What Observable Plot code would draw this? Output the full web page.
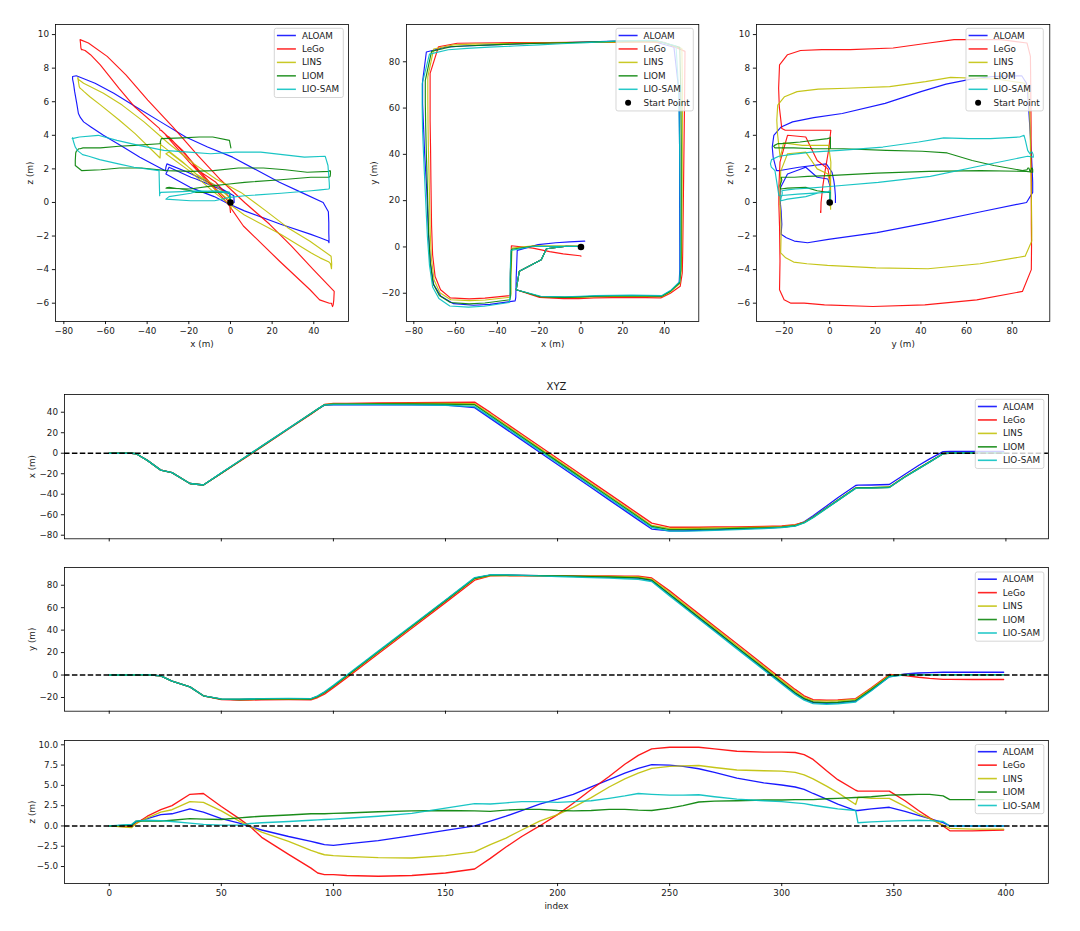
<!DOCTYPE html>
<html><head><meta charset="utf-8">
<script src="https://cdn.jsdelivr.net/npm/d3@7"></script>
<script src="https://cdn.jsdelivr.net/npm/@observablehq/plot@0.6"></script>
<style>
body{margin:0;background:#fff;}
#wrap{position:relative;width:1080px;height:931px;font-family:"DejaVu Sans";overflow:hidden;}
#wrap svg{position:absolute;overflow:visible;}
</style></head><body><div id="wrap"></div>
<script>
const methods = ["ALOAM","LeGo","LINS","LIOM","LIO-SAM"];
const colors = ["#0000ff","#ff0000","#bfbf00","#008000","#00bfbf"];
const startPoint = {x: 0, y: 0, z: 0};
const startLabel = "Start Point";

const idx = [0,10,12,17,23,28,36, 42,50,58,63,68,80,90, 93,96,100,106,120,135,150, 163,170,177,184,192,200,207,
  215,223,230,236,242,250,256, 263,270,280,292,300,306,310, 314,320,325,333,334,340,348, 355,361,366,372,375,385,399];

const xALOAM = [0,0,-0.5,-7,-16.5,-19,-29.5, -31,-19.4,-7.8,-0.6,6.7,24.1,38.6, 43,47,47.3,47.3,47.2,47.2,47, 44.5,34,23.5,13,1,-11,-21.5,
  -33.5,-45.5,-56,-65,-74,-75.8,-75.8, -75.3,-74.8,-73.8,-73,-72,-70.5,-67, -61,-51.5,-43.5,-31.5,-31.2,-31,-30.5, -20.5,-12,-5.5,1.6,1.8,1.8,1.8];
const xLeGo = [0,0,-0.5,-7,-16.5,-19,-29.5, -31,-19.8,-8.3,-1.1,6.2,23.6,38.2, 42.8,47.5,48.5,48.7,49,49.3,49.6, 49.8,39.8,29.3,18.8,6.8,-5.2,-15.7,
  -27.7,-39.7,-50.2,-59.2,-68.2,-72.2,-72.2, -72.2,-72,-71.8,-71.5,-71,-69.8,-67.2, -62.5,-53.5,-46,-34,-33.8,-33.8,-33.3, -23,-15,-8.5,-0.5,0,0,0];
const xLINS = [0,0,-0.5,-7,-16.5,-19,-29.5, -31,-19.4,-7.8,-0.6,6.7,24.1,38.6, 43,47.3,48,48.2,48.4,48.5,48.6, 48.3,38,27.5,17,5,-7,-17.5,
  -29.5,-41.5,-52,-61,-70.5,-73.3,-73.3, -73.2,-73,-72.6,-72.2,-71.6,-70.3,-67.5, -62.3,-53.3,-45.8,-33.8,-33.5,-33.5,-33, -22.8,-14.8,-8.3,-0.3,0.3,0.3,0.3];
const xLIOM = [0,0,-0.5,-7,-16.5,-19,-29.5, -31,-19.4,-7.8,-0.6,6.7,24.1,38.6, 43,47.2,47.8,47.9,48,48,47.8, 47.3,36.8,26.3,15.8,3.8,-8.2,-18.7,
  -30.7,-42.7,-53.2,-62.2,-71.5,-74.5,-74.5, -74.3,-74,-73.5,-72.9,-72.2,-70.8,-67.8, -62.5,-53.5,-46,-34,-33.7,-33.7,-33.2, -23,-15,-8.5,-0.5,0.2,0.2,0.2];
const xLIOSAM = [0,0,-0.5,-7,-16.5,-19,-29.5, -31,-19.2,-7.6,-0.4,6.9,24.3,38.8, 43.2,47.2,47.5,47.5,47.4,47.2,46.8, 45.5,35.5,25,14.5,2.5,-9.5,-20,
  -32,-44,-54.5,-63.5,-72.5,-76,-76, -75.8,-75.3,-74.5,-73.5,-72.5,-71,-68, -62.8,-53.8,-46.3,-34.3,-34,-34,-33.5, -23.2,-15.2,-8.7,-0.5,0.2,0.2,0.2];

const yALOAM = [0,0,0.2,0.3,-0.8,-5.5,-10.5, -18.5,-21.5,-21.8,-21.6,-21.3,-21,-21.3, -19,-15.5,-9.7,-0.6,20.7,43.5,66.3, 86.3,89,89,88.8,88.5,88.2,88,
  87.6,87.2,86.8,86.3,84.2,71.5,62, 51,40,24.3,5.5,-7,-16.3,-21.3, -24.5,-25.2,-24.8,-23.3,-21.8,-13.5,-1.5, 1,1.8,2.2,2.5,2.5,2.5,2.5];
const yLeGo = [0,0,0.2,0.3,-0.8,-5.5,-10.5, -18.5,-21.8,-22.3,-22.3,-22,-21.8,-22, -20,-17,-11.2,-2.3,18.9,41.7,64.5, 84.5,88.4,88.5,88.4,88.4,88.4,88.3,
  88.3,88.2,88.1,88,86.5,75,65.5, 54.5,43.5,27.8,9,-3.5,-12.8,-18.5, -22,-22.4,-22.1,-21,-19.5,-11.3,0.5, -0.5,-2,-3,-3.8,-3.9,-4,-4];
const yLINS = [0,0,0.2,0.3,-0.8,-5.5,-10.5, -18.5,-21.5,-21.8,-21.8,-21.5,-21.3,-21.5, -19.3,-15.8,-10,-1,20.3,43.1,65.9, 85.7,88.6,88.6,88.5,88.4,88.3,88.1,
  88,87.8,87.6,87.3,85.5,73.5,64, 53,42,26.3,7.5,-5,-14.3,-19.8, -22.8,-23.2,-22.9,-21.7,-20.2,-12,-0.5, 0.5,0.4,0.4,0.4,0.4,0.4,0.4];
const yLIOM = [0,0,0.2,0.3,-0.8,-5.5,-10.5, -18.5,-21.5,-21.8,-21.6,-21.3,-21,-21.3, -19,-15.5,-9.7,-0.6,20.7,43.5,66.3, 86.2,89,89,88.8,88.5,88.2,88,
  87.7,87.3,86.9,86.5,84.5,72,62.5, 51.5,40.5,24.8,6,-6.5,-15.8,-21, -24,-24.6,-24.2,-22.8,-21.3,-13,-1, 0.3,0.3,0.3,0.3,0.3,0.3,0.3];
const yLIOSAM = [0,0,0.2,0.3,-0.8,-5.5,-10.5, -18.5,-21.3,-21.5,-21.3,-21,-20.8,-21, -18.6,-15,-9.2,0,21.3,44.1,66.9, 86.8,89.3,89.2,88.8,88.3,87.8,87.3,
  86.8,86.3,85.8,85.2,83.3,70.5,61, 50,39,23.3,4.5,-8,-17.3,-22.3, -25.5,-26,-25.6,-24,-22.3,-14,-1.5, 0.2,0.2,0.2,0.2,0.2,0.2,0.2];

const zALOAM = [0,0.1,0.5,0.9,1.4,1.5,2.1, 1.7,0.9,0.35,-0.1,-0.5,-1.3,-1.9, -2.1,-2.3,-2.4,-2.2,-1.8,-1.2,-0.55, 0,0.6,1.2,1.9,2.7,3.3,3.9,
  4.8,5.7,6.5,7.1,7.55,7.5,7.35, 7.05,6.6,5.9,5.3,5.05,4.8,4.5, 4.0,3.3,2.7,1.9,1.9,2.1,2.3, 1.8,1.3,0.9,0.4,0,0,0];
const zLeGo = [0,-0.1,0.3,1.2,2.0,2.5,3.9, 4.0,2.4,0.9,-0.1,-1.4,-3.5,-5.2, -5.8,-6.0,-6.0,-6.1,-6.2,-6.1,-5.8, -5.3,-4.0,-2.6,-1.3,0,1.4,2.8,
  4.5,6.1,7.6,8.7,9.5,9.7,9.7, 9.7,9.5,9.2,9.1,9.1,9.05,8.8, 8.2,6.8,5.7,4.4,4.3,4.3,4.3, 3.1,1.9,1.0,0,-0.6,-0.6,-0.5];
const zLINS = [0,-0.2,0.3,1.0,1.7,2.0,3.0, 2.9,1.85,0.6,-0.1,-0.75,-1.9,-3.0, -3.3,-3.55,-3.65,-3.75,-3.9,-3.95,-3.65, -3.2,-2.3,-1.5,-0.5,0.6,1.4,2.3,
  3.5,4.8,5.8,6.5,7.1,7.35,7.4, 7.45,7.2,6.9,6.8,6.75,6.6,6.3, 5.8,4.9,4.1,2.65,3.55,3.4,3.4, 2.4,1.5,0.9,0.1,-0.3,-0.4,-0.4];
const zLIOM = [0,0.1,0.6,0.6,0.6,0.7,0.9, 0.85,0.8,1.0,1.1,1.2,1.35,1.5, 1.5,1.5,1.55,1.6,1.75,1.85,1.9, 1.85,1.8,1.95,2.05,2.05,1.9,1.85,
  1.9,2.05,2.05,1.95,1.9,2.2,2.5, 2.95,3.05,3.1,3.2,3.2,3.25,3.25, 3.25,3.35,3.4,3.5,3.5,3.6,3.8, 3.85,3.9,3.9,3.7,3.25,3.25,3.25];
const zLIOSAM = [0,0.2,0.6,0.7,0.65,0.55,0.35, 0.2,0.1,0.1,0.3,0.4,0.55,0.7, 0.75,0.8,0.85,0.95,1.2,1.55,2.2, 2.75,2.7,2.85,3.0,3.0,2.9,3.0,
  3.1,3.4,3.7,4.0,3.9,3.8,3.8, 3.85,3.6,3.3,3.1,3.0,2.85,2.75, 2.55,2.3,2.1,1.9,0.4,0.5,0.6, 0.65,0.7,0.65,0.55,0,0,0];

const X = [xALOAM, xLeGo, xLINS, xLIOM, xLIOSAM];
const Y = [yALOAM, yLeGo, yLINS, yLIOM, yLIOSAM];
const Z = [zALOAM, zLeGo, zLINS, zLIOM, zLIOSAM];

const rows = [];
methods.forEach((m, k) => idx.forEach((t, i) => rows.push({method: m, index: t, x: X[k][i], y: Y[k][i], z: Z[k][i]})));

const wrap = document.getElementById("wrap");
const FS = 8.8;
const TXT = "#1a1a1a";

function panel(o) {
  const ml = 70, mr = 14, mt = 26, mb = 44;
  const W = o.fw + ml + mr, H = o.fh + mt + mb;
  const marks = [
    Plot.axisX({ticks: o.xticks, tickSize: 3.1, tickPadding: 3.2, tickFormat: o.xfmt, label: null}),
    Plot.axisY({ticks: o.yticks, tickSize: 3.1, tickPadding: 3.4, tickFormat: o.yfmt, label: null}),
    ...o.marks,
    Plot.frame({stroke: "#000", strokeWidth: 0.8})
  ];
  if (o.xlabel) marks.push(Plot.text([o.xlabel], {text: d => d, frameAnchor: "bottom", textAnchor: "middle", lineAnchor: "middle", dy: o.xlabelDy, fill: TXT, fontSize: FS}));
  if (o.ylabel) marks.push(Plot.text([o.ylabel], {text: d => d, frameAnchor: "left", textAnchor: "middle", lineAnchor: "middle", dx: o.ylabelDx, rotate: -90, fill: TXT, fontSize: FS}));
  if (o.title) marks.push(Plot.text([o.title], {text: d => d, frameAnchor: "top", textAnchor: "middle", lineAnchor: "middle", dy: -8, fill: TXT, fontSize: 10}));
  const svg = Plot.plot({
    width: W, height: H, marginLeft: ml, marginRight: mr, marginTop: mt, marginBottom: mb,
    x: {domain: o.xd}, y: {domain: o.yd},
    color: {domain: methods, range: colors},
    style: {fontFamily: "DejaVu Sans", fontSize: FS + "px", color: TXT, background: "transparent", overflow: "visible"},
    marks
  });
  const ox = o.fx - ml, oy = o.fy - mt;
  svg.style.left = ox + "px"; svg.style.top = oy + "px";
  wrap.appendChild(svg);
  return {svg, ox, oy};
}

function legend(p, left, top, w, withStart, lw) {
  const entries = methods.map((m, k) => ({label: m, color: colors[k], kind: "line"}));
  if (withStart) entries.push({label: startLabel, color: "#000", kind: "dot"});
  const step = 13.45, first = 7.2;
  const h = first + (entries.length - 1) * step + 8.2;
  const g = d3.select(p.svg).append("g").attr("transform", `translate(${left - p.ox},${top - p.oy})`)
    .attr("text-anchor", "start");
  g.append("rect").attr("width", w).attr("height", h).attr("rx", 2)
    .attr("fill", "#fff").attr("fill-opacity", 0.8).attr("stroke", "#cccccc").attr("stroke-width", 0.8);
  entries.forEach((e, i) => {
    const yy = first + i * step;
    if (e.kind === "line") {
      g.append("line").attr("x1", 2.6).attr("x2", 21.6).attr("y1", yy).attr("y2", yy)
        .attr("stroke", e.color).attr("stroke-width", lw).attr("stroke-opacity", 0.85);
    } else {
      g.append("circle").attr("cx", 12.1).attr("cy", yy).attr("r", 3).attr("fill", e.color);
    }
    g.append("text").attr("x", 27.6).attr("y", yy).attr("dy", "0.35em").attr("fill", TXT)
      .attr("text-anchor", "start").style("text-anchor", "start")
      .attr("font-size", FS).attr("font-family", "DejaVu Sans").text(e.label);
  });
}

function trajLines(xk, yk, sw) {
  return [
    Plot.line(rows, {x: xk, y: yk, z: "method", stroke: "method", strokeWidth: sw, strokeOpacity: 0.9, clip: true}),
    Plot.dot([startPoint], {x: xk, y: yk, r: 3.3, fill: "#000"})
  ];
}

const t20 = d3.range(-80, 41, 20);
const zt = d3.range(-6, 11, 2);

// Top row: trajectories
const p1 = panel({fx: 55, fy: 24, fw: 293, fh: 297, xd: [-84, 56.66], yd: [-7.09, 10.6],
  xticks: t20, yticks: zt, marks: trajLines("x", "z", 1.15), xlabel: "x (m)", xlabelDy: 22.3, ylabel: "z (m)", ylabelDx: -25.7});
legend(p1, 274.3, 28.3, 69, false, 1.5);

const p2 = panel({fx: 406, fy: 24, fw: 292.3, fh: 297, xd: [-83.5, 56.4], yd: [-32.2, 96.1],
  xticks: t20, yticks: d3.range(-20, 81, 20), marks: trajLines("x", "y", 1.15), xlabel: "x (m)", xlabelDy: 22.3, ylabel: "y (m)", ylabelDx: -32});
legend(p2, 616, 28.3, 77.3, true, 1.5);

const p3 = panel({fx: 756, fy: 24, fw: 293.3, fh: 297, xd: [-32.1, 96.5], yd: [-7.09, 10.6],
  xticks: d3.range(-20, 81, 20), yticks: zt, marks: trajLines("y", "z", 1.15), xlabel: "y (m)", xlabelDy: 22.3, ylabel: "z (m)", ylabelDx: -26});
legend(p3, 966, 28.3, 77.3, true, 1.5);

// Bottom rows: time series
const idxTicks = d3.range(0, 401, 50);
const noLab = () => "";
function tsMarks(key) {
  return [
    Plot.line(rows, {x: "index", y: key, z: "method", stroke: "method", strokeWidth: 1.35, strokeOpacity: 0.9, clip: true}),
    Plot.ruleY([0], {stroke: "#000", strokeWidth: 1.4, strokeDasharray: "5.5,2.4"})
  ];
}
const bx = 64.4, bw = 1048.3 - 64.4, idxDomain = [-19.95, 418.95];

const q1 = panel({fx: bx, fy: 394, fw: bw, fh: 144.3, xd: idxDomain, yd: [-83.5, 57.3],
  xticks: idxTicks, xfmt: noLab, yticks: d3.range(-80, 41, 20), marks: tsMarks("x"),
  ylabel: "x (m)", ylabelDx: -32.4, title: "XYZ"});
legend(q1, 975.7, 399.3, 68.6, false, 1.6);

const q2 = panel({fx: bx, fy: 567.3, fw: bw, fh: 143.7, xd: idxDomain, yd: [-32.2, 95.8],
  xticks: idxTicks, xfmt: noLab, yticks: d3.range(-20, 81, 20), marks: tsMarks("y"),
  ylabel: "y (m)", ylabelDx: -32.4});
legend(q2, 975.7, 572.3, 68.6, false, 1.6);

const q3 = panel({fx: bx, fy: 740, fw: bw, fh: 143, xd: idxDomain, yd: [-7.09, 10.53],
  xticks: idxTicks, yticks: d3.range(-5, 10.1, 2.5), yfmt: d3.format(".1f"), marks: tsMarks("z"),
  xlabel: "index", xlabelDy: 22.5, ylabel: "z (m)", ylabelDx: -32.4});
legend(q3, 975.7, 744.5, 68.6, false, 1.6);
</script>
</body></html>
